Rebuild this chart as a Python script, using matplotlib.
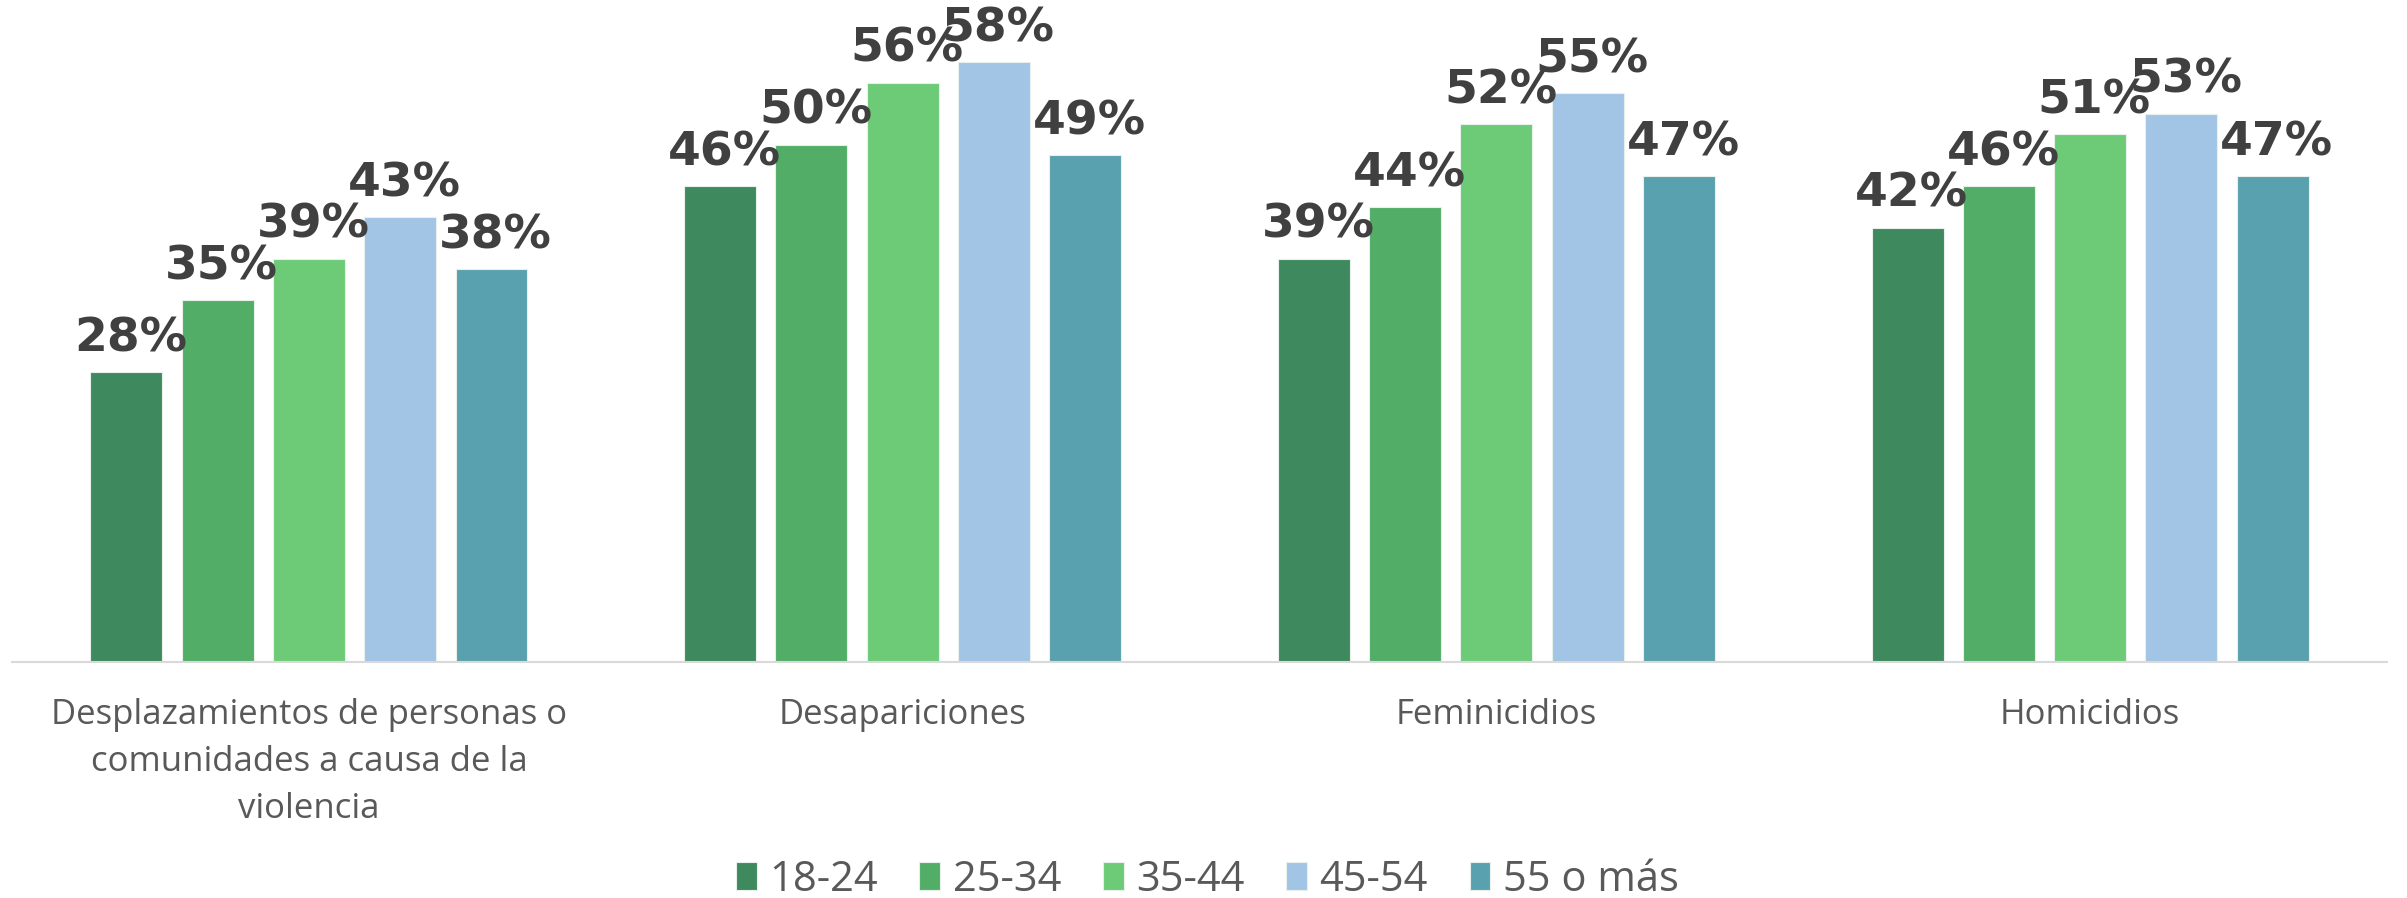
import numpy as np
import matplotlib
matplotlib.use("Agg")
import matplotlib.pyplot as plt

CATEGORIAS = [
    "Desplazamientos de personas o\ncomunidades a causa de la\nviolencia",
    "Desapariciones",
    "Feminicidios",
    "Homicidios",
]
GRUPOS = ["18-24", "25-34", "35-44", "45-54", "55 o más"]
V_18_24 = [0.28, 0.46, 0.39, 0.42]
V_25_34 = [0.35, 0.50, 0.44, 0.46]
V_35_44 = [0.39, 0.56, 0.52, 0.51]
V_45_54 = [0.43, 0.58, 0.55, 0.53]
V_55_MAS = [0.38, 0.49, 0.47, 0.47]

COLORES = ["#3E8A5E", "#52AE67", "#6DCB77", "#A2C4E5", "#5AA1AF"]

series = [V_18_24, V_25_34, V_35_44, V_45_54, V_55_MAS]

fig = plt.figure(figsize=(24.07, 8.98), dpi=100)
ax = fig.add_axes([0.005, 0.2628, 0.9867, 0.7372])

x = np.arange(len(CATEGORIAS))
ancho = 0.121
paso = 0.1537

for i, (vals, nombre, color) in enumerate(zip(series, GRUPOS, COLORES)):
    pos = x + (i - 2) * paso
    bars = ax.bar(pos, vals, width=ancho, color=color, label=nombre,
                  edgecolor="#E8F0EC", linewidth=0.8)
    for b, v in zip(bars, vals):
        ax.annotate(f"{v:.0%}", (b.get_x() + b.get_width() / 2, v),
                    xytext=(3, 15), textcoords="offset points",
                    ha="center", va="baseline", fontsize=34,
                    fontweight="bold", color="#404040",
                    family="DejaVu Sans", annotation_clip=False)

ax.set_xlim(-0.5, 3.5)
ax.set_ylim(0, 0.64)
ax.set_yticks([])
for s in ["top", "right", "left"]:
    ax.spines[s].set_visible(False)
ax.spines["bottom"].set_color("#D9D9D9")
ax.spines["bottom"].set_linewidth(1.5)
ax.set_xticks(x)
ax.set_xticklabels(CATEGORIAS, fontsize=25, color="#595959",
                   family="Open Sans", linespacing=1.5)
ax.tick_params(axis="x", length=0, pad=26)

fig.legend(loc="center", bbox_to_anchor=(0.5016, 0.02), ncol=5,
           frameon=False, handlelength=0.5, handleheight=0.66,
           handletextpad=0.3, columnspacing=1.0,
           prop={"family": "Open Sans", "size": 30},
           labelcolor="#595959")

plt.savefig("out.png", dpi=100)
plt.close()
